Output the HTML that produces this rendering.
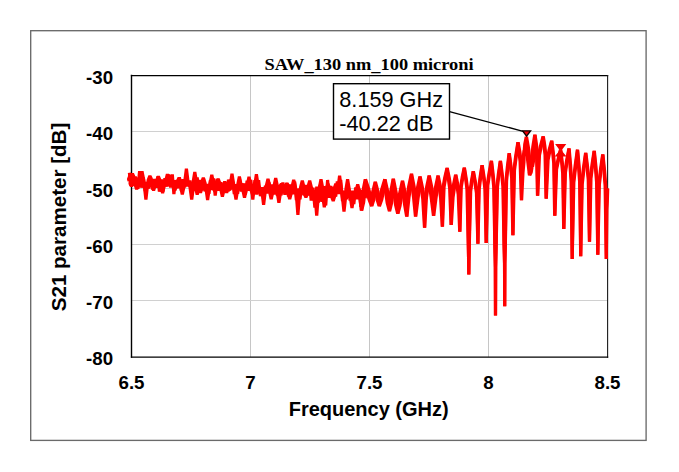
<!DOCTYPE html>
<html>
<head>
<meta charset="utf-8">
<title>SAW_130 nm_100 microni</title>
<style>
html,body{margin:0;padding:0;background:#ffffff;}
body{width:679px;height:472px;overflow:hidden;font-family:"Liberation Sans",sans-serif;}
svg{display:block;}
.tk{font-family:"Liberation Sans",sans-serif;font-weight:bold;font-size:18.7px;fill:#000;}
.ax{font-family:"Liberation Sans",sans-serif;font-weight:bold;font-size:20.7px;fill:#000;}
.tt{font-family:"Liberation Serif",serif;font-weight:bold;font-size:17.4px;fill:#000;}
.cb{font-family:"Liberation Sans",sans-serif;font-size:21.7px;fill:#000;}
</style>
</head>
<body>
<svg width="679" height="472" viewBox="0 0 679 472">
<rect x="0" y="0" width="679" height="472" fill="#ffffff"/>
<!-- outer frame -->
<rect x="30.7" y="30.7" width="615.4" height="409.7" fill="#ffffff" stroke="#6a6a6a" stroke-width="1.35"/>
<!-- grid -->
<line x1="250.5" y1="75.5" x2="250.5" y2="357.0" stroke="#c6c6c6" stroke-width="1"/>
<line x1="369.5" y1="75.5" x2="369.5" y2="357.0" stroke="#c6c6c6" stroke-width="1"/>
<line x1="488.5" y1="75.5" x2="488.5" y2="357.0" stroke="#c6c6c6" stroke-width="1"/>
<line x1="131.5" y1="131.5" x2="607.5" y2="131.5" stroke="#d0d0d0" stroke-width="1"/>
<line x1="131.5" y1="188.5" x2="607.5" y2="188.5" stroke="#d0d0d0" stroke-width="1"/>
<line x1="131.5" y1="244.5" x2="607.5" y2="244.5" stroke="#d0d0d0" stroke-width="1"/>
<line x1="131.5" y1="300.5" x2="607.5" y2="300.5" stroke="#d0d0d0" stroke-width="1"/>

<!-- plot border -->
<g stroke="#000000" fill="none" stroke-linecap="square">
<line x1="131.5" y1="75.5" x2="131.5" y2="357.1" stroke-width="1.4"/>
<line x1="131.5" y1="75.5" x2="607.6" y2="75.5" stroke-width="1.25"/>
<line x1="607.6" y1="75.5" x2="607.6" y2="357.1" stroke-width="1.1" stroke="#1a1a1a"/>
<line x1="131.5" y1="357.1" x2="607.6" y2="357.1" stroke-width="1.25"/>
</g>
<!-- data -->
<g fill="none" stroke="#ff0000" stroke-width="3.2" stroke-linejoin="bevel" stroke-linecap="butt">
<polyline points="361.38,210.5 361.38,202.7 362.74,191.8 365.28,179.3 366.82,190.0 369.02,199.4 371.58,206.1 371.50,200.0 372.76,191.6 375.18,181.9 375.80,191.6 377.20,200.0 379.18,206.1 379.60,199.4 381.56,190.0 384.78,179.3 385.64,192.1 387.25,203.2 389.38,211.2 389.35,203.1 390.68,191.7 393.18,178.8 394.00,192.7 395.57,204.9 397.68,213.7 397.88,205.5 399.52,194.0 402.38,180.9 403.12,193.5 404.62,204.7 406.68,216.6 407.01,197.8 408.66,186.5 411.38,173.9 412.18,186.5 413.61,197.8 415.48,216.6 415.66,200.5 417.20,189.2 419.88,176.5 421.13,188.0 422.74,198.7 424.49,227.6 425.06,197.5 426.67,186.9 429.08,175.7 429.92,188.3 431.46,199.7 433.48,215.7 433.68,199.7 435.26,188.3 437.98,175.7 439.11,187.1 440.61,197.8 442.29,226.7 443.09,186.9 444.73,177.5 446.98,168.0 448.20,178.1 449.63,187.8 451.08,225.0 451.59,197.2 453.16,186.4 455.58,174.8 456.81,184.7 458.24,194.4 459.71,231.8 460.60,187.0 462.17,177.4 464.18,167.8 465.56,178.3 466.93,188.8 468.14,238.0 468.44,250.6 468.65,261.8 468.80,274.6 468.95,261.8 469.16,250.6 469.34,238.0 470.07,191.2 471.44,181.2 473.18,171.2 474.84,182.0 476.45,192.9 477.87,243.8 478.65,188.7 480.12,176.9 481.98,165.2 483.44,176.8 484.88,188.5 486.17,243.0 487.20,185.6 489.02,173.2 491.28,160.9 492.50,173.9 493.72,186.8 494.89,247.0 495.14,257.3 495.35,267.5 495.50,315.4 495.65,267.5 495.86,257.3 496.09,247.0 496.88,186.8 498.38,173.9 500.28,160.9 501.58,173.6 502.88,186.2 504.08,245.0 504.34,254.2 504.55,263.4 504.70,306.3 504.85,263.4 505.06,254.2 505.28,245.0 505.97,180.8 507.34,167.1 509.08,153.3 510.38,165.6 511.67,177.9 512.83,235.2 513.88,170.2 515.66,156.3 517.88,142.3 518.89,152.1 520.11,161.6 521.38,200.2 521.45,172.9 522.43,162.1 524.18,150.3 524.88,155.7 524.25,150.9 524.74,144.4 526.28,136.8 526.59,149.5 527.71,160.8 529.48,175.2 529.00,172.2 529.70,168.1 531.48,163.3 532.28,166.7 531.92,157.8 532.80,147.0 534.78,134.8 535.56,143.9 536.50,153.0 537.48,195.7 538.53,155.1 540.49,145.9 543.08,136.5 544.01,145.8 545.06,155.1 546.08,198.6 547.06,160.0 548.99,150.5 551.58,140.8 552.64,152.0 553.73,163.2 554.68,215.7 555.95,169.5 557.98,159.6 560.48,149.7 561.58,161.5 562.70,173.4 563.70,229.0 564.80,172.7 566.62,160.6 568.88,148.5 569.98,165.1 571.10,181.7 572.20,258.9 573.23,182.5 575.08,166.1 577.38,149.8 578.48,165.7 579.60,181.7 580.70,256.3 581.65,184.0 583.40,168.5 585.58,152.9 586.92,166.3 588.25,179.6 589.46,241.8 590.38,178.3 592.02,164.7 594.08,151.0 595.34,166.6 596.60,182.2 597.80,254.8 598.75,184.6 600.50,169.6 602.68,154.5 603.90,170.2 605.12,185.9 606.30,258.9 606.33,209.6 606.78,199.1 607.48,188.5"/>
<polyline points="361.62,210.5 363.58,202.7 364.94,191.8 365.52,179.3 369.02,190.0 371.23,199.4 371.82,206.1 373.70,200.0 374.96,191.6 375.42,181.9 378.00,191.6 379.40,200.0 379.42,206.1 381.80,199.4 383.76,190.0 385.02,179.3 387.84,192.1 389.45,203.2 389.62,211.2 391.55,203.1 392.88,191.7 393.42,178.8 396.20,192.7 397.78,204.9 397.92,213.7 400.08,205.5 401.72,194.0 402.62,180.9 405.32,193.5 406.83,204.7 406.92,216.6 408.94,197.8 410.58,186.5 411.62,173.9 414.10,186.5 415.54,197.8 415.72,216.6 417.74,200.5 419.28,189.2 420.12,176.5 422.55,188.0 424.16,198.7 424.71,227.6 426.44,197.5 428.05,186.9 429.32,175.7 432.00,188.3 433.54,199.7 433.72,215.7 435.77,199.7 437.34,188.3 438.22,175.7 440.53,187.1 442.04,197.8 442.51,226.7 444.06,186.9 445.71,177.5 447.22,168.0 449.28,178.1 450.72,187.8 451.32,225.0 453.06,197.2 454.64,186.4 455.82,174.8 457.87,184.7 459.31,194.4 459.89,231.8 461.25,187.0 462.83,177.4 464.42,167.8 466.16,178.3 467.53,188.8 468.26,238.0 468.44,250.6 468.65,261.8 468.80,274.6 468.95,261.8 469.16,250.6 469.46,238.0 470.68,191.2 472.04,181.2 473.42,171.2 475.44,182.0 477.05,192.9 477.93,243.8 479.25,188.7 480.72,176.9 482.22,165.2 484.04,176.8 485.48,188.5 486.23,243.0 487.80,185.6 489.62,173.2 491.52,160.9 493.10,173.9 494.32,186.8 494.91,247.0 495.14,257.3 495.35,267.5 495.50,315.4 495.65,267.5 495.86,257.3 496.11,247.0 497.48,186.8 498.98,173.9 500.52,160.9 502.18,173.6 503.48,186.2 504.12,245.0 504.34,254.2 504.55,263.4 504.70,306.3 504.85,263.4 505.06,254.2 505.32,245.0 506.57,180.8 507.94,167.1 509.32,153.3 510.98,165.6 512.27,177.9 512.97,235.2 514.47,170.2 516.26,156.3 518.12,142.3 519.91,152.1 521.14,161.6 521.62,200.2 522.95,172.9 523.93,162.1 524.42,150.3 525.12,155.7 526.45,150.9 526.94,144.4 526.52,136.8 528.77,149.5 529.89,160.8 529.72,175.2 531.20,172.2 531.90,168.1 531.72,163.3 532.52,166.7 534.12,157.8 535.00,147.0 535.02,134.8 536.40,143.9 537.35,153.0 537.72,195.7 539.47,155.1 541.43,145.9 543.32,136.5 544.79,145.8 545.84,155.1 546.32,198.6 548.09,160.0 550.01,150.5 551.82,140.8 553.24,152.0 554.32,163.2 554.92,215.7 556.55,169.5 558.58,159.6 560.72,149.7 562.18,161.5 563.30,173.4 563.90,229.0 565.40,172.7 567.22,160.6 569.12,148.5 570.58,165.1 571.70,181.7 572.20,258.9 573.83,182.5 575.68,166.1 577.62,149.8 579.08,165.7 580.20,181.7 580.70,256.3 582.25,184.0 584.00,168.5 585.82,152.9 587.52,166.3 588.85,179.6 589.54,241.8 590.97,178.3 592.62,164.7 594.32,151.0 595.94,166.6 597.20,182.2 597.80,254.8 599.35,184.6 601.10,169.6 602.92,154.5 604.50,170.2 605.72,185.9 606.30,258.9 606.92,209.6 607.38,199.1 607.72,188.5"/>
<polyline points="129.4,172.7 130.9,186.1 132.5,173.1 134.0,185.4 136.0,178.0 137.9,188.9 139.6,171.1 141.3,187.6 143.3,177.5 145.2,191.1 146.7,182.1 148.6,188.5 150.5,176.7 152.5,189.5 154.3,179.1 156.2,187.7 157.8,176.5 159.4,191.7 161.4,179.4 163.0,191.4 164.9,178.3 167.0,186.5 168.5,174.5 170.6,187.6 172.3,174.5 173.9,194.1 175.5,180.1 177.5,188.1 179.4,177.3 181.4,190.9 183.1,179.2 184.7,187.4 186.3,174.9 188.0,186.4 189.7,180.4 191.6,193.4 193.5,180.1 195.5,190.5 197.2,177.4 198.8,192.6 200.4,180.0 201.9,190.2 203.5,178.4 205.0,191.3 206.8,184.1 208.9,193.7 210.4,180.1 212.1,190.0 213.6,178.5 215.2,195.5 217.3,179.0 218.9,190.6 220.9,182.2 222.6,194.0 224.7,181.3 226.7,193.0 228.5,179.6 230.1,189.9 232.2,178.4 234.3,194.1 235.9,184.3 237.6,193.7 239.6,179.6 241.5,191.4 243.6,183.5 245.4,194.5 247.1,180.7 248.8,190.8 250.8,179.8 252.8,199.5 254.9,180.1 256.7,194.5 258.6,180.3 260.4,196.1 262.0,187.1 263.6,199.2 265.4,185.8 267.1,193.5 269.1,182.5 270.9,196.5 272.5,184.5 274.0,194.5 275.7,180.9 277.4,195.9 279.4,186.1 281.1,195.3 282.9,182.5 284.9,194.8 286.7,183.1 288.5,196.5 290.5,184.6 292.6,194.2 294.7,181.6 296.4,200.2 298.0,188.6 300.0,199.4 301.9,183.9 304.0,195.3 305.7,185.1 307.7,195.5 309.5,182.7 311.2,200.6 313.0,187.6 314.9,207.5 316.8,186.7 318.4,202.6 320.0,184.9 321.9,201.9 323.8,186.1 325.7,205.5 327.6,180.0 329.1,197.8 330.8,186.0 332.5,199.6 334.1,186.9 335.7,196.7 337.3,181.5 339.1,194.0 340.7,180.0 342.5,201.2 344.5,190.8 346.3,199.4 348.0,184.2 350.1,200.5 352.1,190.7 353.8,204.1 355.7,187.5 357.3,199.2 359.2,188.8 360.8,206.9 362.5,190.1 364.3,197.9 366.0,182.3 367.8,198.3"/>
<polyline points="129.3,181.0 128.5,179.4 130.2,174.7 131.9,179.4 129.9,183.5 131.6,186.2 133.3,183.5 131.5,179.5 133.2,175.2 134.9,179.5 133.7,179.6 135.4,177.3 137.1,179.6 134.9,183.8 136.6,189.3 138.3,183.8 137.3,179.8 139.0,179.3 140.7,179.8 140.3,179.9 142.0,171.3 143.7,179.9 144.2,184.4 145.9,199.5 147.6,184.4 148.2,180.2 149.9,175.8 151.6,180.2 151.9,184.9 153.6,190.5 155.3,184.9 156.7,180.6 158.4,176.3 160.1,180.6 160.9,185.4 162.6,193.1 164.3,185.4 165.7,181.0 167.4,174.2 169.1,181.0 168.3,181.1 170.0,175.2 171.7,181.1 173.1,186.2 174.8,190.5 176.5,186.2 177.3,181.5 179.0,177.8 180.7,181.5 180.6,186.6 182.3,194.5 184.0,186.6 184.7,181.9 186.4,168.8 188.1,181.9 190.0,187.2 191.7,199.5 193.4,187.2 193.1,182.3 194.8,172.0 196.5,182.3 195.5,187.5 197.2,194.7 198.9,187.5 198.8,187.6 200.5,192.7 202.2,187.6 201.6,182.8 203.3,177.8 205.0,182.8 205.9,188.0 207.6,200.0 209.3,188.0 210.1,183.3 211.8,174.7 213.5,183.3 213.3,188.4 215.0,191.5 216.7,188.4 216.5,183.6 218.2,178.9 219.9,183.6 220.7,188.8 222.4,196.7 224.1,188.8 223.9,184.0 225.6,183.7 227.3,184.0 226.6,189.2 228.3,190.5 230.0,189.2 230.3,184.4 232.0,173.7 233.7,184.4 234.3,189.6 236.0,199.5 237.7,189.6 237.7,184.8 239.4,176.7 241.1,184.8 242.8,190.0 244.5,197.7 246.2,190.0 247.3,185.1 249.0,176.8 250.7,185.1 251.1,190.5 252.8,195.2 254.5,190.5 254.7,185.4 256.4,174.3 258.1,185.4 261.9,191.1 263.6,204.7 265.3,191.1 266.3,185.8 268.0,178.8 269.7,185.8 269.5,191.5 271.2,199.1 272.9,191.5 274.0,186.1 275.7,178.2 277.4,186.1 277.2,191.9 278.9,202.8 280.6,191.9 279.7,186.3 281.4,183.8 283.1,186.3 285.3,186.5 287.0,183.3 288.7,186.5 288.0,192.5 289.7,199.1 291.4,192.5 292.0,186.8 293.7,180.0 295.4,186.8 296.2,193.0 297.9,215.0 299.6,193.0 300.6,187.2 302.3,180.7 304.0,187.2 304.2,193.6 305.9,197.2 307.6,193.6 308.0,187.5 309.7,180.7 311.4,187.5 311.5,194.1 313.2,199.7 314.9,194.1 315.0,194.3 316.7,215.7 318.4,194.3 319.3,188.1 321.0,179.3 322.7,188.1 322.6,194.9 324.3,207.3 326.0,194.9 326.3,188.5 328.0,183.8 329.7,188.5 331.5,195.5 333.2,201.0 334.9,195.5 334.1,188.8 335.8,183.8 337.5,188.8 337.9,189.0 339.6,175.7 341.3,189.0 342.3,196.2 344.0,211.7 345.7,196.2 345.9,189.6 347.6,179.3 349.3,189.6 350.3,196.7 352.0,208.0 353.7,196.7 356.0,190.8 357.7,184.3 359.4,190.8 359.8,197.2 361.5,210.5 363.2,197.2"/>
</g>
<!-- second marker (hourglass) -->
<path d="M555.1 144.1 L566.3 144.1 L560.7 151.6 Z M554.7 156.4 L566.5 156.4 L560.6 149.2 Z" fill="#f60000" stroke="none"/>
<!-- leader + marker 1 -->
<line x1="449.5" y1="111.6" x2="523.0" y2="131.3" stroke="#000000" stroke-width="1.3"/>
<path d="M522.6 130.8 L530.6 130.8 L526.55 136.2 Z" fill="#f00008" stroke="#100000" stroke-width="1.35" stroke-linejoin="miter"/>
<!-- callout -->
<rect x="333.5" y="83.7" width="116" height="55.4" fill="#ffffff" stroke="#000000" stroke-width="1.4"/>
<text x="339.3" y="106.75" class="cb">8.159 GHz</text>
<text x="339.3" y="130.95" class="cb">-40.22 dB</text>
<!-- title -->
<text x="369.1" y="69.5" text-anchor="middle" textLength="209" lengthAdjust="spacingAndGlyphs" class="tt">SAW<tspan dy="1.7">_</tspan><tspan dy="-1.7">130 nm</tspan><tspan dy="1.7">_</tspan><tspan dy="-1.7">100 microni</tspan></text>
<!-- tick labels -->
<text x="113.1" y="83.9" text-anchor="end" class="tk">-30</text>
<text x="113.1" y="140.2" text-anchor="end" class="tk">-40</text>
<text x="113.1" y="196.5" text-anchor="end" class="tk">-50</text>
<text x="113.1" y="252.8" text-anchor="end" class="tk">-60</text>
<text x="113.1" y="309.1" text-anchor="end" class="tk">-70</text>
<text x="113.1" y="365.4" text-anchor="end" class="tk">-80</text>

<text x="131.5" y="388.9" text-anchor="middle" class="tk">6.5</text>
<text x="250.5" y="388.9" text-anchor="middle" class="tk">7</text>
<text x="369.5" y="388.9" text-anchor="middle" class="tk">7.5</text>
<text x="488.5" y="388.9" text-anchor="middle" class="tk">8</text>
<text x="607.5" y="388.9" text-anchor="middle" class="tk">8.5</text>

<!-- axis titles -->
<text x="368.7" y="416.3" text-anchor="middle" textLength="160" lengthAdjust="spacingAndGlyphs" class="ax">Frequency (GHz)</text>
<text transform="translate(65.8,217) rotate(-90)" text-anchor="middle" textLength="188.5" lengthAdjust="spacingAndGlyphs" class="ax">S21 parameter [dB]</text>
</svg>
</body>
</html>
